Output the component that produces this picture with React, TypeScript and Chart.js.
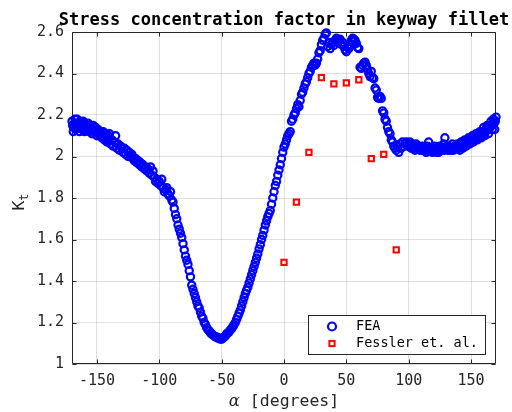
import React, { useEffect, useRef } from 'react';
import { Chart, registerables } from 'chart.js';

Chart.register(...registerables);

// ---------------- data ----------------
const feaAngle = [
  -170, -169, -168, -167, -166, -165, -164, -163, -162, -161,
  -160, -159, -158, -157, -156, -155, -154, -153, -152, -151,
  -150, -149, -148, -147, -146, -145, -144, -143, -142, -141,
  -140, -139, -138, -137, -136, -135, -134, -133, -132, -131,
  -130, -129, -128, -127, -126, -125, -124, -123, -122, -121,
  -120, -119, -118, -117, -116, -115, -114, -113, -112, -111,
  -110, -109, -108, -107, -106, -105, -104, -103, -102, -101,
  -100, -99, -98, -97, -96, -95, -94, -93, -92, -91,
  -90, -89, -88, -87, -86, -85, -84, -83, -82, -81,
  -80, -79, -78, -77, -76, -75, -74, -73, -72, -71,
  -70, -69, -68, -67, -66, -65, -64, -63, -62, -61,
  -60, -59, -58, -57, -56, -55, -54, -53, -52, -51,
  -50, -49, -48, -47, -46, -45, -44, -43, -42, -41,
  -40, -39, -38, -37, -36, -35, -34, -33, -32, -31,
  -30, -29, -28, -27, -26, -25, -24, -23, -22, -21,
  -20, -19, -18, -17, -16, -15, -14, -13, -12, -11,
  -10, -9, -8, -7, -6, -5, -4, -3, -2, -1,
  0, 1, 2, 3, 4, 5, 6, 7, 8, 9,
  10, 11, 12, 13, 14, 15, 16, 17, 18, 19,
  20, 21, 22, 23, 24, 25, 26, 27, 28, 29,
  30, 31, 32, 33, 34, 35, 36, 37, 38, 39,
  40, 41, 42, 43, 44, 45, 46, 47, 48, 49,
  50, 51, 52, 53, 54, 55, 56, 57, 58, 59,
  60, 61, 62, 63, 64, 65, 66, 67, 68, 69,
  70, 71, 72, 73, 74, 75, 76, 77, 78, 79,
  80, 81, 82, 83, 84, 85, 86, 87, 88, 89,
  90, 91, 92, 93, 94, 95, 96, 97, 98, 99,
  100, 101, 102, 103, 104, 105, 106, 107, 108, 109,
  110, 111, 112, 113, 114, 115, 116, 117, 118, 119,
  120, 121, 122, 123, 124, 125, 126, 127, 128, 129,
  130, 131, 132, 133, 134, 135, 136, 137, 138, 139,
  140, 141, 142, 143, 144, 145, 146, 147, 148, 149,
  150, 151, 152, 153, 154, 155, 156, 157, 158, 159,
  160, 161, 162, 163, 164, 165, 166, 167, 168, 169, 170,
];

const feaKt = [
  2.17, 2.12, 2.16, 2.13, 2.18, 2.14, 2.12, 2.16, 2.13, 2.17,
  2.12, 2.15, 2.13, 2.16, 2.12, 2.14, 2.11, 2.15, 2.12, 2.14,
  2.10, 2.13, 2.11, 2.12, 2.09, 2.12, 2.08, 2.11, 2.07, 2.10,
  2.11, 2.06, 2.08, 2.05, 2.07, 2.10, 2.04, 2.06, 2.03, 2.05,
  2.04, 2.02, 2.04, 2.01, 2.03, 2.00, 2.02, 2.00, 2.01, 1.99,
  1.98, 1.99, 1.97, 1.98, 1.96, 1.97, 1.95, 1.96, 1.94, 1.95,
  1.93, 1.94, 1.92, 1.95, 1.91, 1.93, 1.90, 1.88, 1.89, 1.87,
  1.88, 1.86, 1.89, 1.85, 1.83, 1.84, 1.85, 1.82, 1.81, 1.83,
  1.79, 1.78, 1.75, 1.72, 1.70, 1.67, 1.65, 1.63, 1.61, 1.58,
  1.55, 1.52, 1.50, 1.48, 1.45, 1.42, 1.38, 1.36, 1.34, 1.32,
  1.30, 1.28, 1.27, 1.25, 1.23, 1.22, 1.20, 1.19, 1.175, 1.165,
  1.16, 1.15, 1.145, 1.14, 1.135, 1.13, 1.13, 1.125, 1.125, 1.12,
  1.12, 1.125, 1.13, 1.135, 1.145, 1.15, 1.155, 1.165, 1.17, 1.18,
  1.19, 1.20, 1.215, 1.23, 1.245, 1.26, 1.28, 1.30, 1.32, 1.34,
  1.355, 1.37, 1.39, 1.41, 1.43, 1.45, 1.47, 1.49, 1.51, 1.53,
  1.555, 1.575, 1.60, 1.62, 1.645, 1.67, 1.69, 1.71, 1.725, 1.74,
  1.77, 1.80, 1.83, 1.86, 1.88, 1.91, 1.935, 1.96, 1.99, 2.02,
  2.045, 2.06, 2.08, 2.10, 2.11, 2.12, 2.17, 2.18, 2.20, 2.21,
  2.23, 2.25, 2.24, 2.27, 2.30, 2.31, 2.33, 2.35, 2.36, 2.38,
  2.40, 2.41, 2.43, 2.44, 2.45, 2.44, 2.45, 2.47, 2.50, 2.51,
  2.54, 2.56, 2.57, 2.59, 2.595, 2.53, 2.55, 2.52, 2.54, 2.55,
  2.535, 2.56, 2.57, 2.55, 2.56, 2.565, 2.54, 2.55, 2.53, 2.515,
  2.505, 2.53, 2.52, 2.54, 2.56, 2.57, 2.565, 2.56, 2.545, 2.525,
  2.52, 2.43, 2.425, 2.44, 2.45, 2.455, 2.44, 2.42, 2.40, 2.385,
  2.41, 2.38, 2.375, 2.33, 2.32, 2.285, 2.28, 2.29, 2.28, 2.22,
  2.21, 2.18, 2.17, 2.14, 2.12, 2.11, 2.08, 2.07, 2.05, 2.04,
  2.03, 2.05, 2.02, 2.06, 2.04, 2.07, 2.05, 2.06, 2.07, 2.05,
  2.06, 2.07, 2.04, 2.06, 2.05, 2.03, 2.06, 2.04, 2.05, 2.03,
  2.04, 2.05, 2.03, 2.04, 2.02, 2.05, 2.07, 2.03, 2.04, 2.02,
  2.03, 2.05, 2.03, 2.04, 2.02, 2.05, 2.03, 2.04, 2.06, 2.09,
  2.04, 2.03, 2.05, 2.03, 2.04, 2.06, 2.03, 2.05, 2.04, 2.06,
  2.05, 2.03, 2.07, 2.05, 2.06, 2.08, 2.05, 2.07, 2.09, 2.06,
  2.08, 2.10, 2.07, 2.09, 2.11, 2.08, 2.10, 2.12, 2.09, 2.11,
  2.14, 2.10, 2.13, 2.15, 2.11, 2.14, 2.17, 2.13, 2.18, 2.13, 2.19,
];

// extra FEA nodes where the mesh is denser (both ends and the flat part)
const feaAngleDense = [
  -169.5, -168.5, -167.5, -166.5, -165.5, -164.5, -163.5, -162.5, -161.5, -160.5,
  -159.5, -158.5, -157.5, -156.5, -155.5, -154.5, -153.5, -152.5, -151.5, -150.5,
  -149.5, -148.5, -147.5, -146.5, -145.5, -144.5, -143.5, -142.5, -141.5, -140.5,
  100.5, 102.5, 104.5, 106.5, 108.5, 110.5, 112.5, 114.5, 116.5, 118.5,
  120.5, 122.5, 124.5, 126.5, 128.5, 130.5, 132.5, 134.5, 136.5, 138.5,
  140.5, 141.5, 142.5, 143.5, 144.5, 145.5, 146.5, 147.5, 148.5, 149.5,
  150.5, 151.5, 152.5, 153.5, 154.5, 155.5, 156.5, 157.5, 158.5, 159.5,
  160.5, 161.5, 162.5, 163.5, 164.5, 165.5, 166.5, 167.5, 168.5, 169.5,
];

const feaKtDense = [
  2.15, 2.14, 2.18, 2.15, 2.16, 2.14, 2.17, 2.15, 2.14, 2.16,
  2.13, 2.14, 2.14, 2.15, 2.13, 2.13, 2.13, 2.14, 2.12, 2.12,
  2.11, 2.12, 2.10, 2.11, 2.10, 2.10, 2.09, 2.09, 2.08, 2.08,
  2.05, 2.05, 2.04, 2.05, 2.04, 2.03, 2.04, 2.03, 2.04, 2.03,
  2.04, 2.02, 2.03, 2.04, 2.03, 2.05, 2.04, 2.03, 2.04, 2.05,
  2.04, 2.05, 2.06, 2.04, 2.07, 2.06, 2.06, 2.08, 2.07, 2.07,
  2.09, 2.08, 2.08, 2.10, 2.09, 2.09, 2.11, 2.10, 2.10, 2.12,
  2.12, 2.12, 2.14, 2.13, 2.13, 2.15, 2.15, 2.16, 2.16, 2.17,
];

const fesslerAngle = [0, 10, 20, 30, 40, 50, 60, 70, 80, 90];
const fesslerKt = [1.49, 1.78, 2.02, 2.38, 2.35, 2.355, 2.37, 1.99, 2.01, 1.55];

const xTicks = [-150, -100, -50, 0, 50, 100, 150];
const yTicks = [1, 1.2, 1.4, 1.6, 1.8, 2, 2.2, 2.4, 2.6];
const xRange = [-170, 170];
const yRange = [1, 2.6];

const titleText = 'Stress concentration factor in keyway fillet';
const xLabelSymbol = 'α';
const xLabelRest = ' [degrees]';
const yLabelMain = 'K';
const yLabelSub = 't';
const legendLabels = ['FEA', 'Fessler et. al.'];

// ---------------- styles ----------------
const MONO = '"DejaVu Sans Mono", monospace';
const AX = '#262626';
const BLUE = '#0000ff';
const RED = '#ff0000';

const decorPlugin = {
  id: 'matlabDecor',
  beforeDatasetsDraw(chart: any) {
    const { ctx, chartArea: a, scales } = chart;
    ctx.save();
    ctx.strokeStyle = AX;
    ctx.lineWidth = 1;
    const L = Math.round(a.left) + 0.5;
    const R = Math.round(a.right) - 0.5;
    const T = Math.round(a.top) + 0.5;
    const B = Math.round(a.bottom) - 0.5;
    ctx.beginPath();
    ctx.rect(L, T, R - L, B - T);
    xTicks.forEach((v) => {
      const px = Math.round(scales.x.getPixelForValue(v)) + 0.5;
      ctx.moveTo(px, B);
      ctx.lineTo(px, B - 4);
      ctx.moveTo(px, T);
      ctx.lineTo(px, T + 4);
    });
    yTicks.forEach((v) => {
      const py = Math.round(scales.y.getPixelForValue(v)) + 0.5;
      ctx.moveTo(L, py);
      ctx.lineTo(L + 4, py);
      ctx.moveTo(R, py);
      ctx.lineTo(R - 4, py);
    });
    ctx.stroke();
    ctx.restore();
  },
  afterDraw(chart: any) {
    const { ctx, chartArea: a } = chart;
    const cx = (a.left + a.right) / 2;
    const cy = (a.top + a.bottom) / 2;
    ctx.save();

    // title
    ctx.fillStyle = '#000';
    ctx.font = `bold 17px ${MONO}`;
    ctx.textAlign = 'center';
    ctx.textBaseline = 'alphabetic';
    ctx.fillText(titleText, cx, a.top - 7);

    // x label
    ctx.fillStyle = AX;
    ctx.textAlign = 'left';
    const symFont = 'italic 16.5px "DejaVu Serif", serif';
    const restFont = `16.5px ${MONO}`;
    ctx.font = symFont;
    const w1 = ctx.measureText(xLabelSymbol).width;
    ctx.font = restFont;
    const w2 = ctx.measureText(xLabelRest).width;
    const sx = cx - (w1 + w2) / 2;
    const by = a.bottom + 42;
    ctx.font = symFont;
    ctx.fillText(xLabelSymbol, sx, by);
    ctx.font = restFont;
    ctx.fillText(xLabelRest, sx + w1, by);

    // y label (rotated, with subscript)
    ctx.save();
    ctx.translate(a.left - 48, cy + 4);
    ctx.rotate(-Math.PI / 2);
    ctx.font = `16.5px ${MONO}`;
    const kw = ctx.measureText(yLabelMain).width;
    ctx.font = `12px ${MONO}`;
    const tw = ctx.measureText(yLabelSub).width;
    const start = -(kw + tw) / 2;
    ctx.font = `16.5px ${MONO}`;
    ctx.fillText(yLabelMain, start, 0);
    ctx.font = `12px ${MONO}`;
    ctx.fillText(yLabelSub, start + kw, 4);
    ctx.restore();

    // legend
    const lx = Math.round(a.right - 188.5) + 0.5;
    const ly = Math.round(a.bottom - 49) + 0.5;
    const lw = 177;
    const lh = 39;
    ctx.fillStyle = '#fff';
    ctx.fillRect(lx, ly, lw, lh);
    ctx.strokeStyle = AX;
    ctx.lineWidth = 1;
    ctx.strokeRect(lx, ly, lw, lh);
    const mx = lx + 23.5;
    const r1 = ly + 11;
    const r2 = ly + 28;
    ctx.strokeStyle = BLUE;
    ctx.lineWidth = 2.2;
    ctx.beginPath();
    ctx.arc(mx, r1, 4, 0, Math.PI * 2);
    ctx.stroke();
    ctx.strokeStyle = RED;
    ctx.lineWidth = 2;
    ctx.strokeRect(mx - 2.6, r2 - 2.6, 5.2, 5.2);
    ctx.fillStyle = '#000';
    ctx.font = `13.5px ${MONO}`;
    ctx.textBaseline = 'middle';
    ctx.fillText(legendLabels[0], lx + 47.5, r1);
    ctx.fillText(legendLabels[1], lx + 47.5, r2);

    ctx.restore();
  },
};

export default function App() {
  const ref = useRef<HTMLCanvasElement | null>(null);

  useEffect(() => {
    if (!ref.current) return;
    const feaPoints = feaAngle
      .map((x, i) => ({ x, y: feaKt[i] }))
      .concat(feaAngleDense.map((x, i) => ({ x, y: feaKtDense[i] })));
    const fesslerPoints = fesslerAngle.map((x, i) => ({ x, y: fesslerKt[i] }));
    const chart = new Chart(ref.current, {
      type: 'scatter',
      data: {
        datasets: [
          {
            label: legendLabels[0],
            data: feaPoints,
            pointStyle: 'circle',
            pointRadius: 3.6,
            pointHoverRadius: 3.6,
            borderWidth: 2,
            pointBorderWidth: 2.2,
            pointHoverBorderWidth: 2.2,
            borderColor: BLUE,
            pointBorderColor: BLUE,
            backgroundColor: 'rgba(0,0,0,0)',
            pointBackgroundColor: 'rgba(0,0,0,0)',
            clip: false,
          } as any,
          {
            label: legendLabels[1],
            data: fesslerPoints,
            pointStyle: 'rect',
            pointRadius: 3.75,
            pointHoverRadius: 3.75,
            borderWidth: 2,
            pointBorderWidth: 2,
            pointHoverBorderWidth: 2,
            borderColor: RED,
            pointBorderColor: RED,
            backgroundColor: 'rgba(0,0,0,0)',
            pointBackgroundColor: 'rgba(0,0,0,0)',
            clip: false,
          } as any,
        ],
      },
      options: {
        responsive: false,
        animation: false,
        events: [],
        layout: { padding: { top: 32, right: 16, left: 0, bottom: 0 } },
        plugins: {
          legend: { display: false },
          title: { display: false },
          tooltip: { enabled: false },
        },
        scales: {
          x: {
            type: 'linear',
            min: xRange[0],
            max: xRange[1],
            afterBuildTicks: (s: any) => {
              s.ticks = xTicks.map((v) => ({ value: v }));
            },
            afterFit: (s: any) => {
              s.height = 48;
            },
            ticks: {
              autoSkip: false,
              maxRotation: 0,
              padding: 8,
              color: AX,
              font: { family: MONO, size: 15 },
              callback: (v: any) => String(v),
            },
            grid: { color: 'rgba(38,38,38,0.15)', lineWidth: 1, drawTicks: false },
            border: { display: false },
          },
          y: {
            type: 'linear',
            min: yRange[0],
            max: yRange[1],
            afterBuildTicks: (s: any) => {
              s.ticks = yTicks.map((v) => ({ value: v }));
            },
            afterFit: (s: any) => {
              s.width = 72;
            },
            ticks: {
              autoSkip: false,
              padding: 8,
              color: AX,
              font: { family: MONO, size: 15 },
              callback: (v: any) => String(v),
            },
            grid: { color: 'rgba(38,38,38,0.15)', lineWidth: 1, drawTicks: false },
            border: { display: false },
          },
        },
      },
      plugins: [decorPlugin],
    } as any);
    return () => chart.destroy();
  }, []);

  return (
    <div style={{ position: 'absolute', left: 0, top: 0, width: 512, height: 412, background: '#fff' }}>
      <canvas ref={ref} width={512} height={412} style={{ display: 'block' }} />
    </div>
  );
}
